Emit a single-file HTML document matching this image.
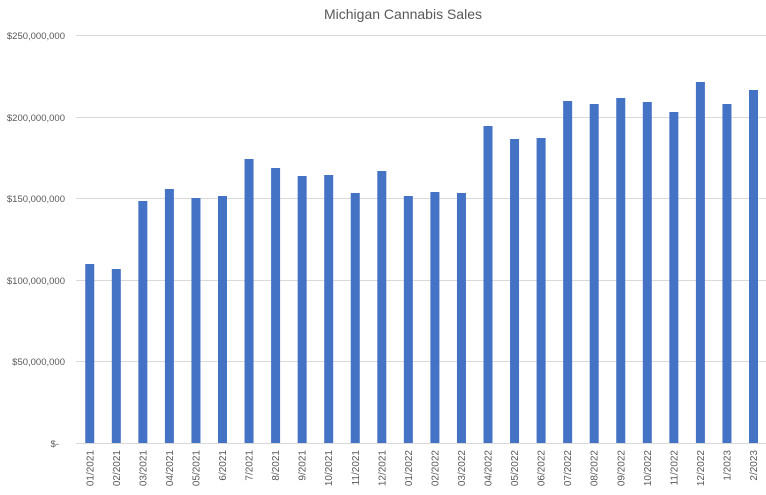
<!DOCTYPE html>
<html><head><meta charset="utf-8"><style>body{margin:0;background:#fff}svg{display:block}</style></head>
<body>
<svg width="766" height="495" xmlns="http://www.w3.org/2000/svg" font-family="Liberation Sans, sans-serif">
<rect width="766" height="495" fill="#fff"/>
<text x="403" y="19" text-anchor="middle" font-size="14" fill="#595959">Michigan Cannabis Sales</text>
<g stroke="#d9d9d9" stroke-width="1">
<line x1="76" x2="766" y1="35.5" y2="35.5"/>
<line x1="76" x2="766" y1="117.5" y2="117.5"/>
<line x1="76" x2="766" y1="198.5" y2="198.5"/>
<line x1="76" x2="766" y1="280.5" y2="280.5"/>
<line x1="76" x2="766" y1="361.5" y2="361.5"/>
<line x1="76" x2="766" y1="443.5" y2="443.5"/>
</g>
<g font-size="9.5" fill="#595959" text-anchor="end">
<text x="65" y="39">$250,000,000</text>
<text x="65" y="121">$200,000,000</text>
<text x="65" y="202">$150,000,000</text>
<text x="65" y="284">$100,000,000</text>
<text x="65" y="365">$50,000,000</text>
<text x="59" y="447">$-</text>
</g>
<g id="bars" fill="#4472c4"></g>
<g id="labels" font-size="10" fill="#595959" text-anchor="end"></g>
<script>
var tops=[264,269,201,189,198,196,159,168,176,175,193,171,196,192,193,126,139,138,101,104,98,102,112,82,104,90];
var labs=["01/2021","02/2021","03/2021","04/2021","05/2021","6/2021","7/2021","8/2021","9/2021","10/2021","11/2021","12/2021","01/2022","02/2022","03/2022","04/2022","05/2022","06/2022","07/2022","08/2022","09/2022","10/2022","11/2022","12/2022","1/2023","2/2023"];
var b=document.getElementById('bars'),l=document.getElementById('labels'),ns="http://www.w3.org/2000/svg";
for(var i=0;i<26;i++){var c=753.5-(25-i)*26.55;
var r=document.createElementNS(ns,'rect');r.setAttribute('x',c-4.5);r.setAttribute('y',tops[i]);r.setAttribute('width',9);r.setAttribute('height',443-tops[i]);b.appendChild(r);
var t=document.createElementNS(ns,'text');t.setAttribute('transform','translate('+(c+3.5)+',450) rotate(-90)');t.textContent=labs[i];l.appendChild(t);}
</script>
</svg>
</body></html>
